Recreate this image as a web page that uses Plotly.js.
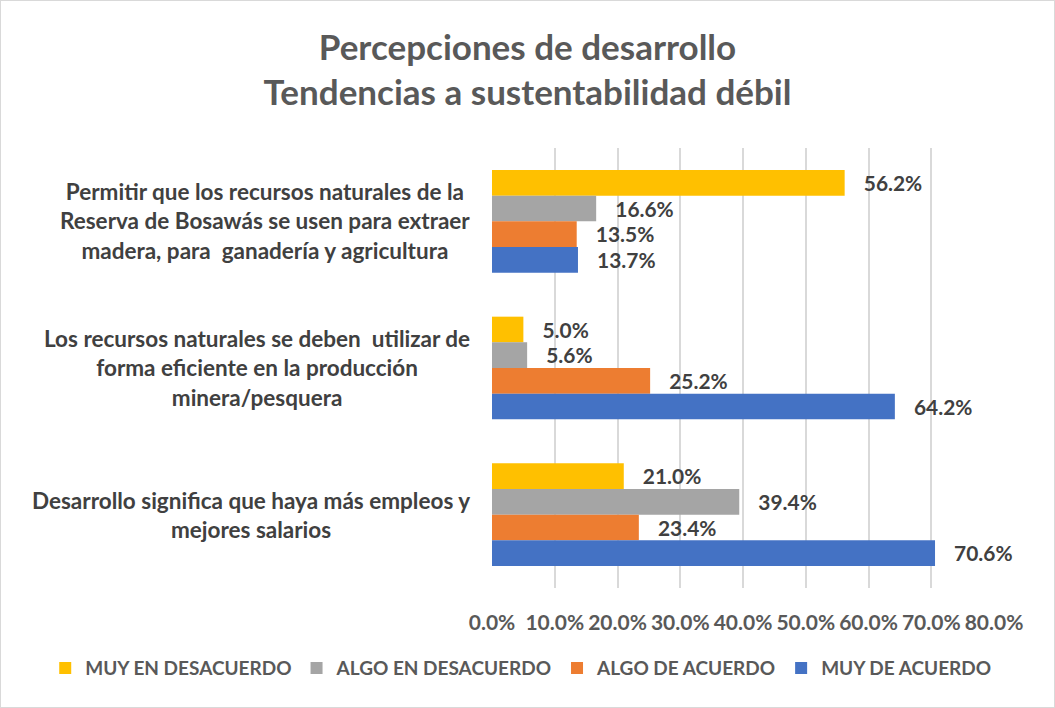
<!DOCTYPE html>
<html><head><meta charset="utf-8">
<script src="https://cdn.plot.ly/plotly-3.0.1.min.js"></script>
<style>
html,body{margin:0;padding:0;background:#fff;}
#chart{width:1053px;height:706px;border:1px solid #d9d9d9;}
</style></head>
<body><div id="chart"></div>
<script>
const categories = [
  "Permitir que los recursos naturales de la<br>Reserva de Bosawás se usen para extraer<br>madera, para  ganadería y agricultura",
  "Los recursos naturales se deben  utilizar de<br>forma eficiente en la producción<br>minera/pesquera",
  "Desarrollo significa que haya más empleos y<br>mejores salarios"
];
const seriesNames = ["MUY EN DESACUERDO", "ALGO EN DESACUERDO", "ALGO DE ACUERDO", "MUY DE ACUERDO"];
const muyDesacuerdo = [0.562, 0.050, 0.210];
const algoDesacuerdo = [0.166, 0.056, 0.394];
const algoAcuerdo = [0.135, 0.252, 0.234];
const muyAcuerdo = [0.137, 0.642, 0.706];
const tickVals = [0, 0.1, 0.2, 0.3, 0.4, 0.5, 0.6, 0.7, 0.8];
const tickText = ["0.0%", "10.0%", "20.0%", "30.0%", "40.0%", "50.0%", "60.0%", "70.0%", "80.0%"];

const colors = ["#FFC000", "#A5A5A5", "#ED7D31", "#4472C4"];
const allSeries = [muyDesacuerdo, algoDesacuerdo, algoAcuerdo, muyAcuerdo];
const FONT = "Lato, 'Open Sans', sans-serif";
const pad = "\u00a0\u00a0\u00a0";

const traces = allSeries.map((vals, i) => ({
  type: "bar",
  orientation: "h",
  name: "<b>" + seriesNames[i] + "</b>",
  x: vals,
  y: categories,
  marker: {color: colors[i]},
  text: vals.map(v => pad + "<b>" + (v * 100).toFixed(1) + "%</b>"),
  textposition: "outside",
  cliponaxis: false,
  textfont: {family: FONT, size: 22, color: "#404040"},
  hoverinfo: "x+name"
}));

const annotations = categories.map(c => ({
  xref: "paper", yref: "y",
  x: 0, xshift: -20, y: c,
  text: "<b>" + c + "</b>",
  showarrow: false,
  align: "center",
  xanchor: "right",
  font: {family: FONT, size: 22.5, color: "#404040"}
}));

const layout = {
  width: 1053, height: 706,
  margin: {l: 491, r: 60, t: 147, b: 119, autoexpand: false},
  paper_bgcolor: "#fff", plot_bgcolor: "#fff",
  barmode: "group",
  bargap: 0.3,
  bargroupgap: 0,
  title: {
    text: "<b>Percepciones de desarrollo<br>Tendencias a sustentabilidad débil</b>",
    x: 0.5, xanchor: "center", xref: "container", y: 0.917, yanchor: "middle",
    font: {family: FONT, size: 35, color: "#595959"}
  },
  xaxis: {
    range: [0, 0.8],
    tickmode: "array",
    tickvals: tickVals, ticktext: tickText.map(t => "<b>" + t + "</b>"),
    tickangle: 0,
    showgrid: true, gridcolor: "#d9d9d9", gridwidth: 1.5,
    zeroline: false, showline: false,
    tickfont: {family: FONT, size: 21, color: "#595959"},
    ticks: "outside", ticklen: 16, tickcolor: "rgba(0,0,0,0)"
  },
  yaxis: {
    autorange: "reversed",
    showticklabels: false,
    showgrid: false, zeroline: false, showline: false, ticks: ""
  },
  legend: {
    orientation: "h", xref: "paper", yref: "paper",
    x: -0.89, xanchor: "left",
    y: -0.182, yanchor: "middle",
    font: {family: FONT, size: 19, color: "#595959"},
    traceorder: "normal",
    itemwidth: 30
  },
  annotations: annotations,
  showlegend: true
};
Plotly.newPlot("chart", traces, layout, {displayModeBar: false});
</script></body></html>
